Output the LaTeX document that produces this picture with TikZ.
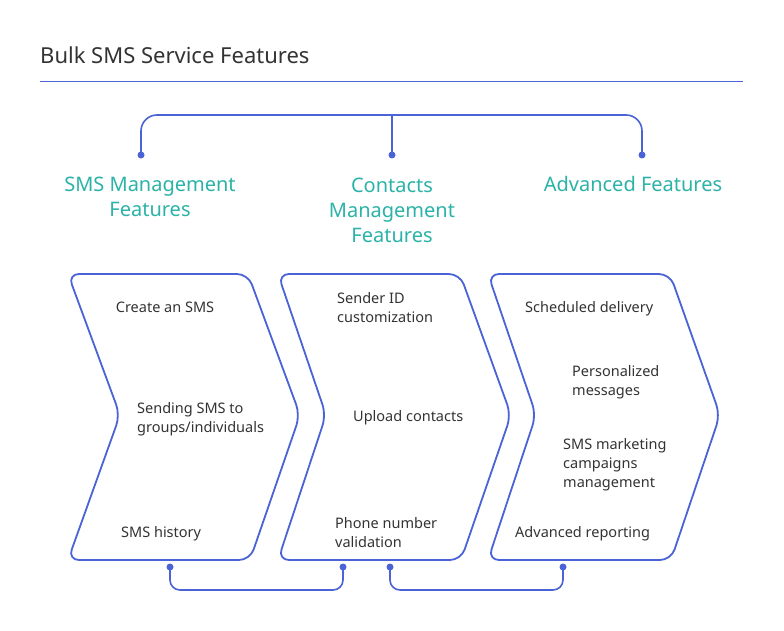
\documentclass[tikz,border=0pt]{standalone}
\usepackage{fontspec}
\setmainfont{Noto Sans}
\begin{document}
\definecolor{bl}{HTML}{4A63D6}
\definecolor{tl}{HTML}{2BB3A8}
\definecolor{tx}{HTML}{333333}
\begin{tikzpicture}[x=1pt,y=-1pt,
  conn/.style={draw=bl,line width=1.6pt,rounded corners=16pt},
  chev/.style={draw=bl,line width=1.8pt,rounded corners=11pt,line join=round},
  dot/.style={circle,fill=bl,inner sep=0pt,minimum size=7pt},
  head/.style={text=tl,font=\fontsize{20}{25}\selectfont,align=center},
  item/.style={text=tx,font=\fontsize{14.5}{19}\selectfont,align=left,inner sep=0pt},
  bottom line/.style={draw=bl,line width=1.6pt,rounded corners=10pt}]
\useasboundingbox (0,0) rectangle (784,631);
\fill[white] (0,0) rectangle (784,631);
\node[anchor=base west,inner sep=0pt,text=tx,font=\fontsize{22}{26}\selectfont] (title) at (40,64) {Bulk SMS Service Features};
\draw[bl,line width=0.8pt] (40,81) -- (743,81);
% top connector
\node[dot] (d1) at (141,155) {};
\node[dot] (d2) at (392,155) {};
\node[dot] (d3) at (642,155) {};
\coordinate (tm) at (392,115);
\draw[conn] (d1.center) -- (141,115) -- (642,115) -- (d3.center);
\draw[draw=bl,line width=1.6pt] (tm) -- (d2.center);
% headers
\node[head] (h1) at (150,197) {SMS Management\\Features};
\node[head] (h2) at (392,210) {Contacts\\Management\\Features};
\node[head] (h3) at (633,184) {Advanced Features};
% chevrons
\draw[chev] (68,274) -- (248,274) -- (300,415) -- (250,560) -- (68,560) -- (120,415) -- cycle;
\draw[chev] (278,274) -- (460,274) -- (511,415) -- (461,560) -- (278,560) -- (326,415) -- cycle;
\draw[chev] (488,274) -- (670,274) -- (720,415) -- (671,560) -- (488,560) -- (536,415) -- cycle;
% items (base = last line baseline)
\node[item,anchor=base] (a1) at (165,312) {Create an SMS};
\node[item,anchor=base west] (a2) at (137,432) {Sending SMS to\\groups/individuals};
\node[item,anchor=base west] (a3) at (121,537) {SMS history};
\node[item,anchor=base west] (b1) at (337,322) {Sender ID\\customization};
\node[item,anchor=base west] (b2) at (353,421) {Upload contacts};
\node[item,anchor=base west] (b3) at (335,547) {Phone number\\validation};
\node[item,anchor=base west] (c1) at (525,312) {Scheduled delivery};
\node[item,anchor=base west] (c2) at (572,395) {Personalized\\messages};
\node[item,anchor=base west] (c3) at (563,487) {SMS marketing\\campaigns\\management};
\node[item,anchor=base west] (c4) at (515,537) {Advanced reporting};
% bottom connectors
\node[dot] (e1) at (170,567) {};
\node[dot] (e2) at (343,567) {};
\node[dot] (e3) at (390,567) {};
\node[dot] (e4) at (563,567) {};
\draw[bottom line] (e1.center) -- (170,590) -- (343,590) -- (e2.center);
\draw[bottom line] (e3.center) -- (390,590) -- (563,590) -- (e4.center);
\end{tikzpicture}
\end{document}
